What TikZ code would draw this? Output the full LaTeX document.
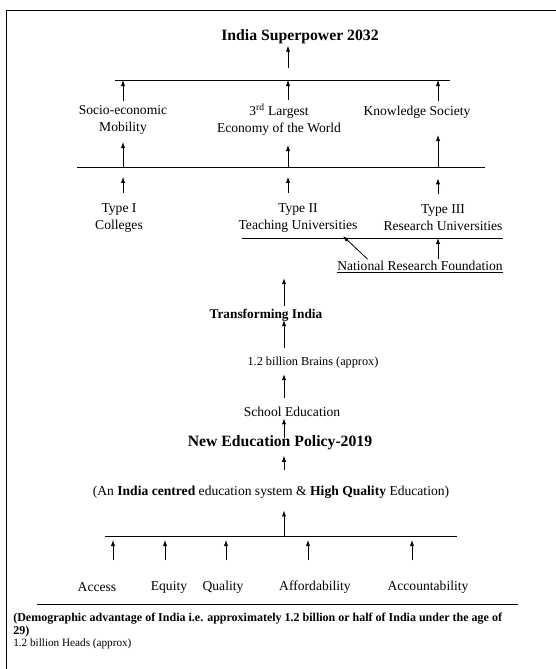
\documentclass[tikz,border=0pt]{standalone}
\usepackage{fontspec}
\setmainfont{Liberation Serif}
\usetikzlibrary{arrows.meta}

\begin{document}
\begin{tikzpicture}[x = {(0.75pt,0pt)},
                    y = {(0pt,-0.75pt)},
                    every node/.style = {inner sep=1pt, align=center,
                                         font=\fontsize{10.2}{12.75}\selectfont},
                    head/.style  = {font=\fontsize{11.8}{14}\selectfont\bfseries},
                    mid/.style   = {font=\fontsize{10}{12}\selectfont\bfseries},
                    small/.style = {font=\fontsize{9.2}{11}\selectfont},
                    note/.style  = {font=\fontsize{8.4}{8.4}\selectfont, align=left,
                                    anchor=north west, inner sep=0pt},
                    bar/.style   = {line width=0.6pt},
                    arr/.style   = {line width=0.6pt, -{Latex[length=4.5pt,width=3.2pt]}}]

    \useasboundingbox (0,0) rectangle (556,669);

    % frame of the page
    \draw[bar] (6,669) -- (6,10) -- (556,10);

    \coordinate (colL) at (123,0);
    \coordinate (colM) at (288,0);
    \coordinate (colR) at (438,0);
    \coordinate (spine) at (284,0);

    % goal
    \node[head] (goal) at (300,37) {India Superpower 2032};
    \draw[bar] (115,80) coordinate (bar1) -- (450,80);
    \draw[arr] (288,68) coordinate (goalfoot) -- (goalfoot |- goal.south);

    \node (socio) at (123,120) {Socio-economic\\Mobility};
    \node (econ)  at (279,120) {3\textsuperscript{rd} Largest\\Economy of the World};
    \node (know)  at (417,112) {Knowledge Society};

    \draw[arr] (socio.north -| colL) ++(0,-3) -- (bar1 -| colL);
    \draw[arr] (econ.north -| colM)  ++(0,-3) -- (bar1 -| colM);
    \draw[arr] (know.north -| colR)  ++(0,-3) -- (bar1 -| colR);

    \draw[bar] (77,167) coordinate (bar2) -- (485,167);
    \draw[arr] (bar2 -| colL) -- ++(0,-25);
    \draw[arr] (bar2 -| colM) -- ++(0,-22);
    \draw[arr] (bar2 -| colR) -- ++(0,-32);

    % three types of institutions
    \node (type1) at (119,218) {Type I\\Colleges};
    \node (type2) at (298,218) {Type II\\Teaching Universities};
    \node (type3) at (443,218) {Type III\\Research Universities};

    \draw[arr] (type1.north -| colL) ++(0,-9) -- ++(0,-16);
    \draw[arr] (type2.north -| colM) ++(0,-9) -- ++(0,-16);
    \draw[arr] (type3.north -| colR) ++(0,-9) -- ++(0,-16);

    \draw[bar] (242,238) coordinate (bar3) -- (503,238);
    \node (nrf) at (420,267) {\underline{National Research Foundation}};
    \draw[arr] (nrf.north -| colR) -- (bar3 -| colR);
    \draw[arr] ([xshift=24pt]nrf.north west) -- ([xshift=-12pt,yshift=-1.5pt]type2.south east);

    % the spine
    \node[mid]   (trans)   at (266,315) {Transforming India};
    \node[small] (brains)  at (313,363) {1.2 billion Brains (approx)};
    \node        (school)  at (292,412) {School Education};
    \node[head]  (nep)     at (280,443) {New Education Policy-2019};
    \node        (centred) at (271,492) {(An \textbf{India centred} education system \&
                                          \textbf{High Quality} Education)};

    \draw[arr] (trans.north -| spine) ++(0,-1) -- ++(0,-28);
    \draw[arr, shorten <=6pt, shorten >=-2pt] (brains.north -| spine) -- (trans.south -| spine);
    \draw[arr, shorten <=6pt, shorten >=3pt] (school.north -| spine) -- (brains.south -| spine);
    \draw[arr] (nep.center -| spine) ++(0,-5) -- (school.south -| spine);
    \draw[arr, shorten <=11pt, shorten >=3pt] (centred.north -| spine) -- (nep.south -| spine);

    % the five pillars
    \draw[bar] (105,536) coordinate (bar4) -- (457,536);
    \draw[arr, shorten >=8pt] (bar4 -| spine) -- (centred.south -| spine);

    \node (access)  at (97,587)  {Access};
    \node (equity)  at (169,587) {Equity};
    \node (quality) at (223,587) {Quality};
    \node (afford)  at (315,587) {Affordability};
    \node (account) at (428,587) {Accountability};

    \coordinate (p1) at (113,560);
    \coordinate (p2) at (165,560);
    \coordinate (p3) at (226,560);
    \coordinate (p4) at (308,560);
    \coordinate (p5) at (412,560);
    \draw[arr, shorten >=3pt] (p1) -- (p1 |- bar4);
    \draw[arr, shorten >=3pt] (p2) -- (p2 |- bar4);
    \draw[arr, shorten >=3pt] (p3) -- (p3 |- bar4);
    \draw[arr, shorten >=3pt] (p4) -- (p4 |- bar4);
    \draw[arr, shorten >=3pt] (p5) -- (p5 |- bar4);

    \draw[bar] (37,604) -- (518,604);
    \node[note] (demo) at (13,613) {{\fontsize{9}{8.4}\selectfont\bfseries (Demographic advantage of India i.e. approximately 1.2 billion or half of India under the age of}\\[1pt]
                                    {\fontsize{9}{8.4}\selectfont\bfseries 29)}\\[0.5pt]
                                    1.2 billion Heads (approx)};

\end{tikzpicture}
\end{document}
